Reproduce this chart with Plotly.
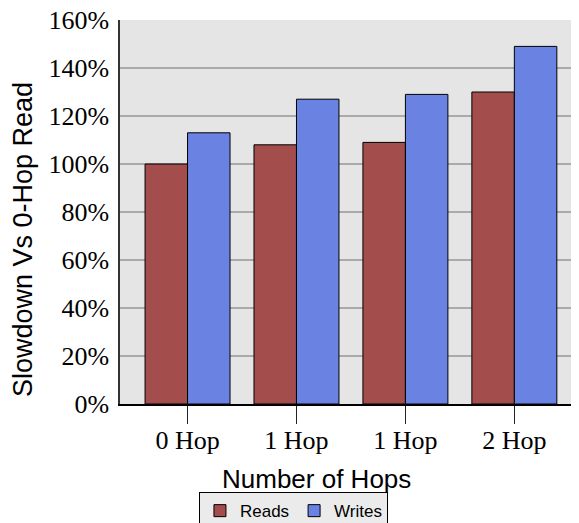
import plotly.graph_objects as go

# categories (two groups share the "1 Hop" label)
hop_labels = ['0 Hop', '1 Hop', '1 Hop', '2 Hop']
hop_pos = [0, 1, 2, 3]
reads = [100, 108, 109, 130]
writes = [113, 127, 129, 149]
y_ticks = [0, 20, 40, 60, 80, 100, 120, 140, 160]

serif = 'Liberation Serif'
sans = 'Liberation Sans'

fig = go.Figure()
fig.add_trace(go.Bar(x=hop_pos, y=reads, name='Reads',
                     marker=dict(color='#a34d4d', line=dict(color='black', width=1))))
fig.add_trace(go.Bar(x=hop_pos, y=writes, name='Writes',
                     marker=dict(color='#6a83e3', line=dict(color='black', width=1))))

# page body has an 8px margin, so the figure is shifted by it
fig.update_layout(
    width=563, height=515,
    margin=dict(l=112, r=0, t=12, b=119),
    barmode='group', bargap=0.22, bargroupgap=0,
    plot_bgcolor='#e5e5e5', paper_bgcolor='white',
    legend=dict(orientation='h', xref='container', yref='container',
                x=0.507, xanchor='center', y=0.06, yanchor='top',
                bordercolor='black', borderwidth=1, bgcolor='#ebebeb',
                font=dict(family=sans, size=17, color='black'),
                itemwidth=30, traceorder='normal', tracegroupgap=0),
    xaxis=dict(
        range=[-0.62, 3.52], tickvals=hop_pos, ticktext=hop_labels,
        ticks='outside', ticklen=18, tickcolor='#222', tickwidth=1,
        showline=True, linecolor='black', linewidth=1.5,
        showgrid=False, zeroline=False, automargin=False,
        ticklabeloverflow='allow', ticklabelstandoff=-6,
        tickfont=dict(family=serif, size=26, color='black'),
    ),
    yaxis=dict(
        range=[0, 160], tickvals=y_ticks, ticktext=[f'{v}%' for v in y_ticks],
        showline=True, linecolor='#333', linewidth=1.5,
        showgrid=True, gridcolor='#aaaaaa', gridwidth=1.5, zeroline=False,
        ticks='outside', ticklen=4, tickcolor='rgba(0,0,0,0)', automargin=False,
        ticklabeloverflow='allow',
        tickfont=dict(family=serif, size=26, color='black'),
    ),
    annotations=[
        dict(text='Number of Hops', xref='paper', yref='paper', x=0.435, y=-0.195,
             xanchor='center', yanchor='middle', showarrow=False,
             font=dict(family=sans, size=26, color='black')),
        dict(text='Slowdown Vs 0-Hop Read', xref='paper', yref='paper', x=-0.215, y=0.427,
             xanchor='center', yanchor='middle', showarrow=False, textangle=-90,
             font=dict(family=sans, size=27, color='black')),
    ],
)

fig.write_html('out.html')
